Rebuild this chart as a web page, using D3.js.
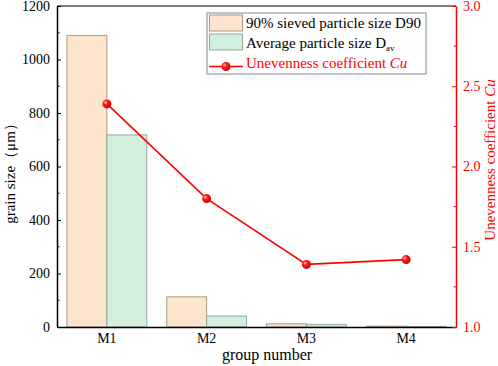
<!DOCTYPE html>
<html>
<head>
<meta charset="utf-8">
<script src="https://cdn.jsdelivr.net/npm/d3@7"></script>
<style>
  body { margin: 0; background: #fff; }
  svg { font-family: "Liberation Serif", "DejaVu Serif", serif; }
</style>
</head>
<body>
<div id="chart"></div>
<script>
const groups = ['M1', 'M2', 'M3', 'M4'];
const d90 = [1090, 113, 12, 3];
const dav = [718, 41, 10, 2];
const cu = [2.39, 1.80, 1.39, 1.42];
const leftTicks = [0, 200, 400, 600, 800, 1000, 1200];
const rightTicks = [1.0, 1.5, 2.0, 2.5, 3.0];

const width = 498, height = 366;
const margin = {top: 6, right: 42, bottom: 39, left: 57};
const w = width - margin.left - margin.right;
const h = height - margin.top - margin.bottom;

const svg = d3.select('#chart').append('svg')
  .attr('width', width).attr('height', height);

const defs = svg.append('defs');
const grad = defs.append('radialGradient').attr('id', 'ball')
  .attr('cx', '35%').attr('cy', '35%').attr('r', '65%');
grad.append('stop').attr('offset', '0%').attr('stop-color', '#ffd0d0');
grad.append('stop').attr('offset', '35%').attr('stop-color', '#ff2020');
grad.append('stop').attr('offset', '100%').attr('stop-color', '#d00000');

const g = svg.append('g')
  .attr('transform', 'translate(' + margin.left + ',' + margin.top + ')');

const x = d3.scaleBand().domain(groups).range([0, w]).paddingInner(0.2).paddingOuter(0.1);
const xs = d3.scaleBand().domain(['d90', 'dav']).range([0, x.bandwidth()]);
const y = d3.scaleLinear().domain([0, 1200]).range([h, 0]);
const y2 = d3.scaleLinear().domain([1.0, 3.0]).range([h, 0]);

const series = [
  {key: 'd90', values: d90, fill: '#fde4cc', stroke: '#a89a8c'},
  {key: 'dav', values: dav, fill: '#d3efdd', stroke: '#8ea898'}
];

series.forEach(s => {
  g.append('g').selectAll('rect')
    .data(groups).enter().append('rect')
    .attr('x', (d) => x(d) + xs(s.key))
    .attr('y', (d, i) => y(s.values[i]))
    .attr('width', xs.bandwidth())
    .attr('height', (d, i) => h - y(s.values[i]))
    .attr('fill', s.fill)
    .attr('stroke', s.stroke)
    .attr('stroke-width', 1);
});

// top frame
g.append('line').attr('x1', 0).attr('x2', w).attr('y1', 0).attr('y2', 0)
  .attr('stroke', '#000').attr('stroke-width', 1.2);

// left axis
const axL = g.append('g')
  .call(d3.axisLeft(y).tickValues(leftTicks).tickFormat(d3.format('d'))
    .tickSizeInner(-4).tickSizeOuter(0).tickPadding(7));
axL.append('g').selectAll('line')
  .data(d3.range(100, 1200, 200)).enter().append('line')
  .attr('x1', 0).attr('x2', 2.5).attr('y1', d => y(d)).attr('y2', d => y(d))
  .attr('stroke', '#000');
axL.select('path').attr('stroke-width', 1.5);
axL.selectAll('text').attr('font-size', 14).attr('font-family', 'Liberation Serif').attr('fill', '#000');

// bottom axis
const axB = g.append('g').attr('transform', 'translate(0,' + h + ')')
  .call(d3.axisBottom(x).tickSize(0).tickPadding(6));
axB.select('path').attr('stroke-width', 1.5);
axB.selectAll('text').attr('font-size', 14).attr('font-family', 'Liberation Serif').attr('fill', '#000');

// right axis
const axR = g.append('g').attr('transform', 'translate(' + w + ',0)')
  .call(d3.axisRight(y2).tickValues(rightTicks).tickFormat(d3.format('.1f'))
    .tickSizeInner(-4).tickSizeOuter(0).tickPadding(7));
axR.append('g').selectAll('line')
  .data([1.25, 1.75, 2.25, 2.75]).enter().append('line')
  .attr('x1', 0).attr('x2', -2.5).attr('y1', d => y2(d)).attr('y2', d => y2(d))
  .attr('stroke', '#ff0000');
axR.select('path').attr('stroke', '#ff0000').attr('stroke-width', 1.5);
axR.selectAll('.tick line').attr('stroke', '#ff0000');
axR.selectAll('text').attr('font-size', 14).attr('font-family', 'Liberation Serif').attr('fill', '#ff0000');

// Cu line
const line = d3.line()
  .x((d, i) => x(groups[i]) + x.bandwidth() / 2)
  .y(d => y2(d));
g.append('path').datum(cu)
  .attr('d', line).attr('fill', 'none').attr('stroke', '#ff0000').attr('stroke-width', 1.6);
g.append('g').selectAll('circle')
  .data(cu).enter().append('circle')
  .attr('cx', (d, i) => x(groups[i]) + x.bandwidth() / 2)
  .attr('cy', d => y2(d))
  .attr('r', 4.5)
  .attr('fill', 'url(#ball)');

// axis titles
svg.append('text')
  .attr('transform', 'translate(15,170) rotate(-90)')
  .attr('text-anchor', 'middle').attr('font-size', 15).attr('fill', '#000')
  .text('grain size（μm）');
svg.append('text')
  .attr('x', 267).attr('y', 360)
  .attr('text-anchor', 'middle').attr('font-size', 16).attr('fill', '#000')
  .text('group number');
const rt = svg.append('text')
  .attr('transform', 'translate(495,160) rotate(-90)')
  .attr('text-anchor', 'middle').attr('font-size', 15).attr('fill', '#ff0000');
rt.append('tspan').text('Unevenness coefficient ');
rt.append('tspan').attr('font-style', 'italic').text('Cu');

// legend
const lg = svg.append('g').attr('transform', 'translate(207,13)');
lg.append('rect').attr('width', 219).attr('height', 61)
  .attr('fill', '#fff').attr('stroke', '#888').attr('stroke-width', 1);
const items = [
  {fill: series[0].fill, stroke: series[0].stroke},
  {fill: series[1].fill, stroke: series[1].stroke}
];
items.forEach((it, i) => {
  lg.append('rect').attr('x', 2.5).attr('y', 2 + i * 19).attr('width', 33).attr('height', 16)
    .attr('fill', it.fill).attr('stroke', it.stroke);
});
lg.append('text').attr('x', 39).attr('y', 15).attr('font-size', 15).attr('fill', '#000')
  .text('90% sieved particle size D90');
const t2 = lg.append('text').attr('x', 39).attr('y', 35).attr('font-size', 15).attr('fill', '#000');
t2.append('tspan').text('Average particle size D');
t2.append('tspan').attr('font-size', 9).attr('dy', 3).text('av');
lg.append('line').attr('x1', 2).attr('x2', 36).attr('y1', 53.5).attr('y2', 53.5)
  .attr('stroke', '#ff0000').attr('stroke-width', 1.6);
lg.append('circle').attr('cx', 19).attr('cy', 53.5).attr('r', 4.5).attr('fill', 'url(#ball)');
const t3 = lg.append('text').attr('x', 39).attr('y', 55).attr('font-size', 15).attr('fill', '#ff0000');
t3.append('tspan').text('Unevenness coefficient ');
t3.append('tspan').attr('font-style', 'italic').text('Cu');
</script>
</body>
</html>
